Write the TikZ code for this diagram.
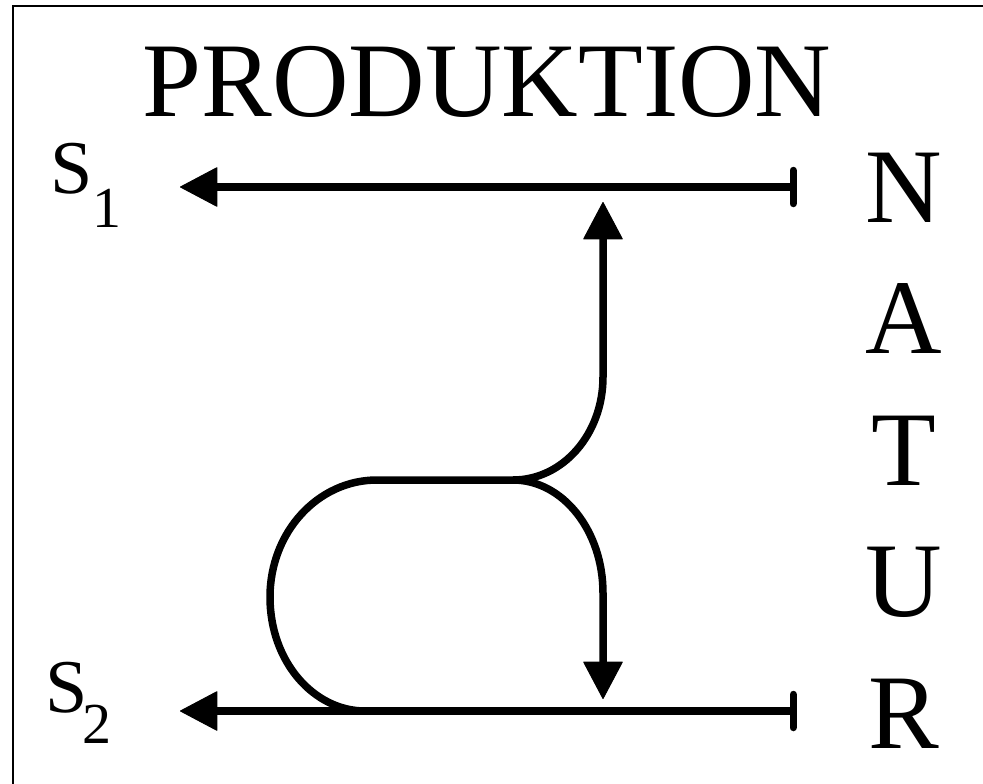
\documentclass[tikz,border=0pt]{standalone}
\usepackage{fontspec}
\setmainfont{Liberation Serif}
\usetikzlibrary{arrows.meta}
\begin{document}
\begin{tikzpicture}[x=1pt,y=-1pt,
  flow/.style={line width=7.5pt},
  lefttip/.style={-{Triangle[length=38pt,width=40pt,line width=1pt,round]}},
  bigtxt/.style={inner sep=0pt,anchor=base,font=\fontsize{106}{106}\selectfont},
  stxt/.style={inner sep=0pt,anchor=base west,font=\fontsize{76}{76}\selectfont},
  frameline/.style={line width=2pt}]
\useasboundingbox (0,0) rectangle (983,784);
\fill[white] (0,0) rectangle (983,784);
% frame
\coordinate (fbl) at (12.5,784);
\coordinate (ftl) at (12.5,6);
\coordinate (ftr) at (983,6);
\draw[frameline] (fbl) -- (ftl) -- (ftr);
% texts
\node[bigtxt] (prod) at (487,117) {PRODUKTION};
\node[bigtxt] (tN) at (904,222) {N};
\node[bigtxt] (tA) at (904,353.5) {A};
\node[bigtxt] (tT) at (904,485) {T};
\node[bigtxt] (tU) at (904,616.5) {U};
\node[bigtxt] (tR) at (904,748) {R};
\node[stxt] (s1) at (50.5,193) {S\raisebox{-34pt}{\fontsize{58}{58}\selectfont 1}};
\node[stxt] (s2) at (45.5,712) {S\kern-5pt\raisebox{-31pt}{\fontsize{58}{58}\selectfont 2}};
% coordinates
\coordinate (n1) at (797,187);
\coordinate (a1) at (180,187);
\coordinate (n2) at (797,711);
\coordinate (a2) at (180,711);
\coordinate (j) at (513,480);
\coordinate (lj) at (377,480);
\coordinate (upbend) at (603,377);
\coordinate (uptip) at (603,202);
\coordinate (dnbend) at (603,593);
\coordinate (dntip) at (603,699);
\coordinate (lleft) at (270,597);
\coordinate (lbot) at (365,711);
% horizontal arrows
\draw[flow,{Triangle[length=38pt,width=40pt,line width=1pt,round]}-{Bar[width=33pt,round]}] (a1) -- (n1);
\draw[flow,{Triangle[length=38pt,width=40pt,line width=1pt,round]}-{Bar[width=33pt,round]}] (a2) -- (n2);
% up branch
\draw[flow,lefttip] (j) .. controls (563,480) and (603,434) .. (upbend) -- (uptip);
% down branch
\draw[flow,lefttip] (j) .. controls (563,480) and (603,531) .. (dnbend) -- (dntip);
% loop
\draw[flow] (j) -- (lj) .. controls (318,480) and (270,532) .. (lleft) .. controls (270,662) and (314,711) .. (lbot);
\end{tikzpicture}
\end{document}
